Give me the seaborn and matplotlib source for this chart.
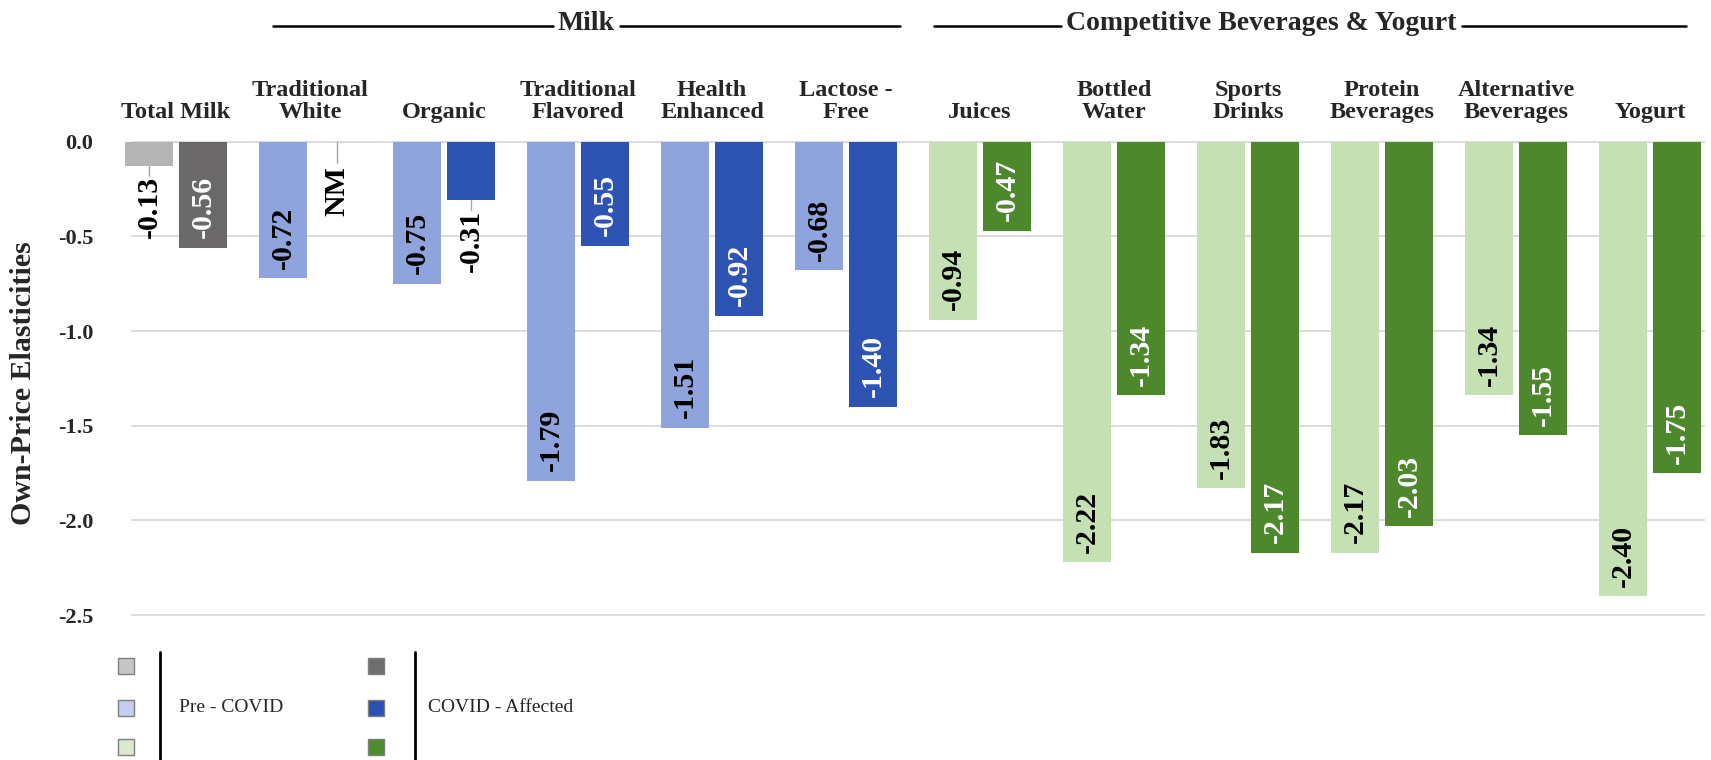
import numpy as np
import pandas as pd
import matplotlib
matplotlib.use("Agg")
import matplotlib.pyplot as plt
import matplotlib.transforms as mtransforms
from matplotlib.patches import Rectangle
from matplotlib.lines import Line2D
import seaborn as sns

# ---- data -------------------------------------------------------------
categories = ["Total Milk", "Traditional\nWhite", "Organic", "Traditional\nFlavored",
              "Health\nEnhanced", "Lactose -\nFree", "Juices", "Bottled\nWater",
              "Sports\nDrinks", "Protein\nBeverages", "Alternative\nBeverages", "Yogurt"]
pre_covid = [-0.13, -0.72, -0.75, -1.79, -1.51, -0.68, -0.94, -2.22, -1.83, -2.17, -1.34, -2.40]
covid_affected = [-0.56, None, -0.31, -0.55, -0.92, -1.40, -0.47, -1.34, -2.17, -2.03, -1.55, -1.75]
segment = ["total", "milk", "milk", "milk", "milk", "milk",
           "other", "other", "other", "other", "other", "other"]
periods = ["Pre - COVID", "COVID - Affected"]
missing_label = "NM"
y_ticks = [0.0, -0.5, -1.0, -1.5, -2.0, -2.5]
headers = ["Milk", "Competitive Beverages & Yogurt"]

# ---- styling ----------------------------------------------------------
bar_colors = {
    "total": ["#b5b5b5", "#6a6868"],
    "milk": ["#8fa3dc", "#2d54b2"],
    "other": ["#c5e1b4", "#4e882d"],
}
legend_colors = {
    "total": ["#c6c6c6", "#6e6e6e"],
    "milk": ["#c5cdf0", "#2a4fb5"],
    "other": ["#dbe9cc", "#4f8c2e"],
}

sns.set_theme(style="white")
plt.rcParams["font.family"] = ["Liberation Serif", "DejaVu Serif"]
plt.rcParams["axes.unicode_minus"] = False

W, H = 1711, 760
fig = plt.figure(figsize=(W / 100, H / 100), dpi=100)
fig.patch.set_facecolor("white")


def fx(x):
    return x / W


def fy(y):
    return 1 - y / H


ax = fig.add_axes([fx(131), fy(616), (1705 - 131) / W, (616 - 141) / H])

rows = []
for cat, p, c in zip(categories, pre_covid, covid_affected):
    rows.append({"category": cat, "period": periods[0], "value": p})
    if c is not None:
        rows.append({"category": cat, "period": periods[1], "value": c})
df = pd.DataFrame(rows)

sns.barplot(data=df, x="category", y="value", hue="period", order=categories,
            hue_order=periods, width=0.806, gap=0.11, errorbar=None,
            saturation=1, legend=False, ax=ax)

# colour every bar by its product segment
offsets = {}
for h, container in enumerate(ax.containers):
    for bar in container:
        cx = bar.get_x() + bar.get_width() / 2
        i = int(round(cx))
        offsets[(i, h)] = cx
        bar.set_facecolor(bar_colors[segment[i]][h])
        bar.set_edgecolor("none")
        bar.set_clip_on(False)

ax.set_xlim(-0.336, 11.41)
ax.set_ylim(-2.505, 0.004)
ax.set_yticks(y_ticks)
ax.set_yticklabels([f"{t:.1f}" for t in y_ticks])
ax.tick_params(axis="y", length=0, pad=27, labelsize=16)
for lab in ax.get_yticklabels():
    lab.set_fontweight("bold")
ax.set_xticks([])
ax.set_xlabel("")
ax.set_ylabel("")
for s in ax.spines.values():
    s.set_visible(False)
ax.set_axisbelow(True)
ax.yaxis.grid(True, color="#d9d9d9", lw=1.3)
ax.xaxis.grid(False)

# value labels, rotated, inside the bar end (outside when the bar is short)
label_size = 21.5
pad = 0.05
lead_color = "#a6a6a6"
for h, vals in enumerate([pre_covid, covid_affected]):
    for i, v in enumerate(vals):
        x = offsets.get((i, h), i + (0.2015 if h else -0.2015))
        if v is None:
            ax.text(x, -0.26, missing_label, rotation=90, ha="center", va="center",
                    fontsize=label_size, fontweight="bold", color="black")
            ax.plot([x, x], [0, -0.11], color=lead_color, lw=1)
            continue
        txt = f"{v:.2f}"
        if abs(v) < 0.4:
            ax.text(x, v - pad, txt, rotation=90, ha="center", va="top",
                    fontsize=label_size, fontweight="bold", color="black")
            ax.plot([x, x], [v, v - pad], color=lead_color, lw=1)
        else:
            ax.text(x, v + pad, txt, rotation=90, ha="center", va="bottom",
                    fontsize=label_size, fontweight="bold",
                    color="white" if h == 1 else "black")

# category names above the bars
top_tf = mtransforms.blended_transform_factory(ax.transData, fig.transFigure)
for i, cat in enumerate(categories):
    ax.text(i, fy(123), cat, transform=top_tf, ha="center", va="bottom",
            fontsize=17.5, fontweight="bold", linespacing=1.08, clip_on=False)

# segment headers with rules either side
header_spans = [(0.72, 5.40), (5.66, 11.27)]
header_x = [3.06, 8.10]
header_texts = []
for name, cx in zip(headers, header_x):
    header_texts.append(ax.text(cx, fy(24), name, transform=top_tf, ha="center",
                                va="center", fontsize=20, fontweight="bold",
                                clip_on=False))
fig.canvas.draw()
renderer = fig.canvas.get_renderer()
inv = ax.transData.inverted()
for t, (x0, x1) in zip(header_texts, header_spans):
    bb = t.get_window_extent(renderer)
    left = inv.transform((bb.x0 - 5, 0))[0]
    right = inv.transform((bb.x1 + 5, 0))[0]
    for a, b in [(x0, left), (right, x1)]:
        ax.add_line(Line2D([a, b], [fy(26), fy(26)], transform=top_tf,
                           color="black", lw=1.8, clip_on=False))

# axis title
fig.text(fx(24), fy(383), "Own-Price Elasticities", rotation=90, ha="center",
         va="center", fontsize=21.5, fontweight="bold")

# legend: three swatches per period with a bar and caption
row_y = [666, 708, 747]
for h, (sq_x, bar_x, txt_x) in enumerate([(118, 160, 179), (368, 415, 428)]):
    for seg, yy in zip(["total", "milk", "other"], row_y):
        fig.add_artist(Rectangle((fx(sq_x), fy(yy + 8)), 16 / W, 16 / H,
                                 transform=fig.transFigure,
                                 facecolor=legend_colors[seg][h],
                                 edgecolor="#7f7f7f", lw=1))
    fig.add_artist(Line2D([fx(bar_x), fx(bar_x)], [fy(652), fy(760)],
                          transform=fig.transFigure, color="black", lw=2))
    fig.text(fx(txt_x), fy(707), periods[h], ha="left", va="center", fontsize=14)

fig.savefig("out.png", dpi=100, facecolor="white")
